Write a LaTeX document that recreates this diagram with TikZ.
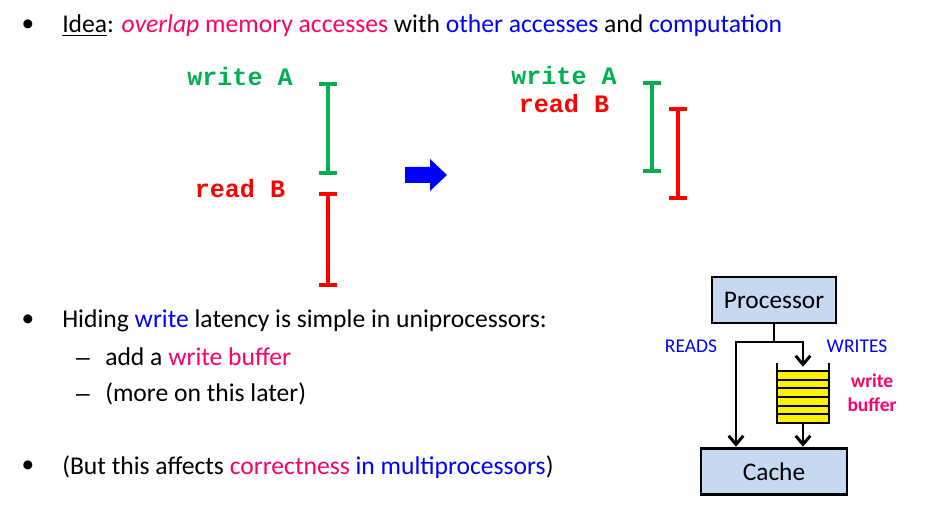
\documentclass[tikz,border=0pt]{standalone}
\usepackage{fontspec}
\setmainfont{Carlito}
\newfontfamily\courierfont{Liberation Mono}
\usetikzlibrary{arrows.meta}

\definecolor{accgreen}{RGB}{0,176,80}
\definecolor{accred}{RGB}{255,0,0}
\definecolor{accpink}{RGB}{255,0,102}
\definecolor{accblue}{RGB}{0,0,255}
\definecolor{boxblue}{RGB}{198,217,241}

\tikzset{
  txt/.style={anchor=west, inner sep=0pt, font=\fontsize{19.2}{22}\selectfont},
  code/.style={inner sep=0pt, font=\courierfont\bfseries\fontsize{18.8}{20}\selectfont},
  span/.style={line width=2.8pt, {Bar[width=13pt]}-{Bar[width=13pt]}},
  unit/.style={draw, line width=2.2pt, fill=boxblue, inner sep=0pt,
    font=\fontsize{19}{22}\selectfont},
  small/.style={inner sep=0pt, font=\fontsize{14.6}{18}\selectfont},
  flow/.style={line width=2.2pt},
  flowarr/.style={flow, -{Straight Barb[length=6.5pt,width=11pt]}}
}

\begin{document}
\begin{tikzpicture}[x=0.75pt,y=-0.75pt]
        \useasboundingbox (0,0) rectangle (925,524);

        % bullet text
        \node (b1) at (28,26) {\fontsize{19}{22}\selectfont\textbullet};
        \node[txt] (idea) at (62,26) {\underline{Idea}: \textcolor{accpink}{\textit{overlap} memory accesses} with \textcolor{accblue}{other accesses} and \textcolor{accblue}{computation}};
        \node (b2) at (28,321) {\fontsize{19}{22}\selectfont\textbullet};
        \node[txt] (hide) at (62,321) {Hiding \textcolor{accblue}{write} latency is simple in uniprocessors:};
        \node[txt, anchor=base west] (d1) at (73,366) {\scalebox{1.5}[1]{\textendash}};
        \node[txt] (add) at (105,357) {add a \textcolor{accpink}{write buffer}};
        \node[txt, anchor=base west] (d2) at (73,402) {\scalebox{1.5}[1]{\textendash}};
        \node[txt] (more) at (105,394) {(more on this later)};
        \node (b3) at (28,467) {\fontsize{19}{22}\selectfont\textbullet};
        \node[txt] (but) at (62,467) {(But this affects \textcolor{accpink}{correctness} \textcolor{accblue}{in multiprocessors})};

        % serial accesses
        \node[code, text=accgreen] (wa1) at (240,77) {write A};
        \node[code, text=accred] (rb1) at (240,189) {read B};
        \coordinate (wa1top) at (328,82);
        \coordinate (wa1bot) at (328,175);
        \coordinate (rb1top) at (328,192);
        \coordinate (rb1bot) at (328,287);
        \draw[span, accgreen] (wa1top) -- (wa1bot);
        \draw[span, accred] (rb1top) -- (rb1bot);

        % blue arrow
        \fill[accblue] (405,167) -- (430,167) -- (430,159) -- (447,175) -- (430,191) -- (430,183) -- (405,183) -- cycle;

        % overlapped accesses
        \node[code, text=accgreen] (wa2) at (564,76) {write A};
        \node[code, text=accred] (rb2) at (564,104) {read B};
        \coordinate (wa2top) at (652,81);
        \coordinate (wa2bot) at (652,173);
        \coordinate (rb2top) at (678,107);
        \coordinate (rb2bot) at (678,200);
        \draw[span, accgreen] (wa2top) -- (wa2bot);
        \draw[span, accred] (rb2top) -- (rb2bot);

        % processor, write buffer, cache
        \node[unit, minimum width=93pt, minimum height=34.5pt] (proc) at (774,300) {Processor};
        \node[unit, minimum width=109.5pt, minimum height=35pt] (cache) at (774,471.5) {Cache};
        \node[minimum width=39pt, minimum height=42pt, inner sep=0pt] (buf) at (803,395) {};
        \foreach \i in {0,...,5}
            \filldraw[fill=yellow, line width=1.3pt] (777,371+\i*8.67) rectangle (829,379.67+\i*8.67);
        \draw[line width=1.6pt] (777,363) -- (777,423) -- (829,423) -- (829,363);

        \coordinate (split) at (774,342);
        \coordinate (rd) at (736,342);
        \coordinate (wr) at (803,342);
        \draw[flow] (proc.south) -- (split);
        \draw[flow, line cap=rect] (rd) -- (wr);
        \draw[flowarr] (rd) -- (rd |- cache.north);
        \draw[flowarr] (wr) -- (wr |- buf.north);
        \draw[flowarr] (wr |- buf.south) -- (wr |- cache.north);

        \node[small, text=accblue] (reads) at (691,346) {READS};
        \node[small, text=accblue] (writes) at (857,346) {WRITES};
        \node[small, text=accpink, align=center, font=\bfseries\fontsize{14.6}{18}\selectfont] (wbuf) at (872,393) {write\\buffer};
\end{tikzpicture}
\end{document}
